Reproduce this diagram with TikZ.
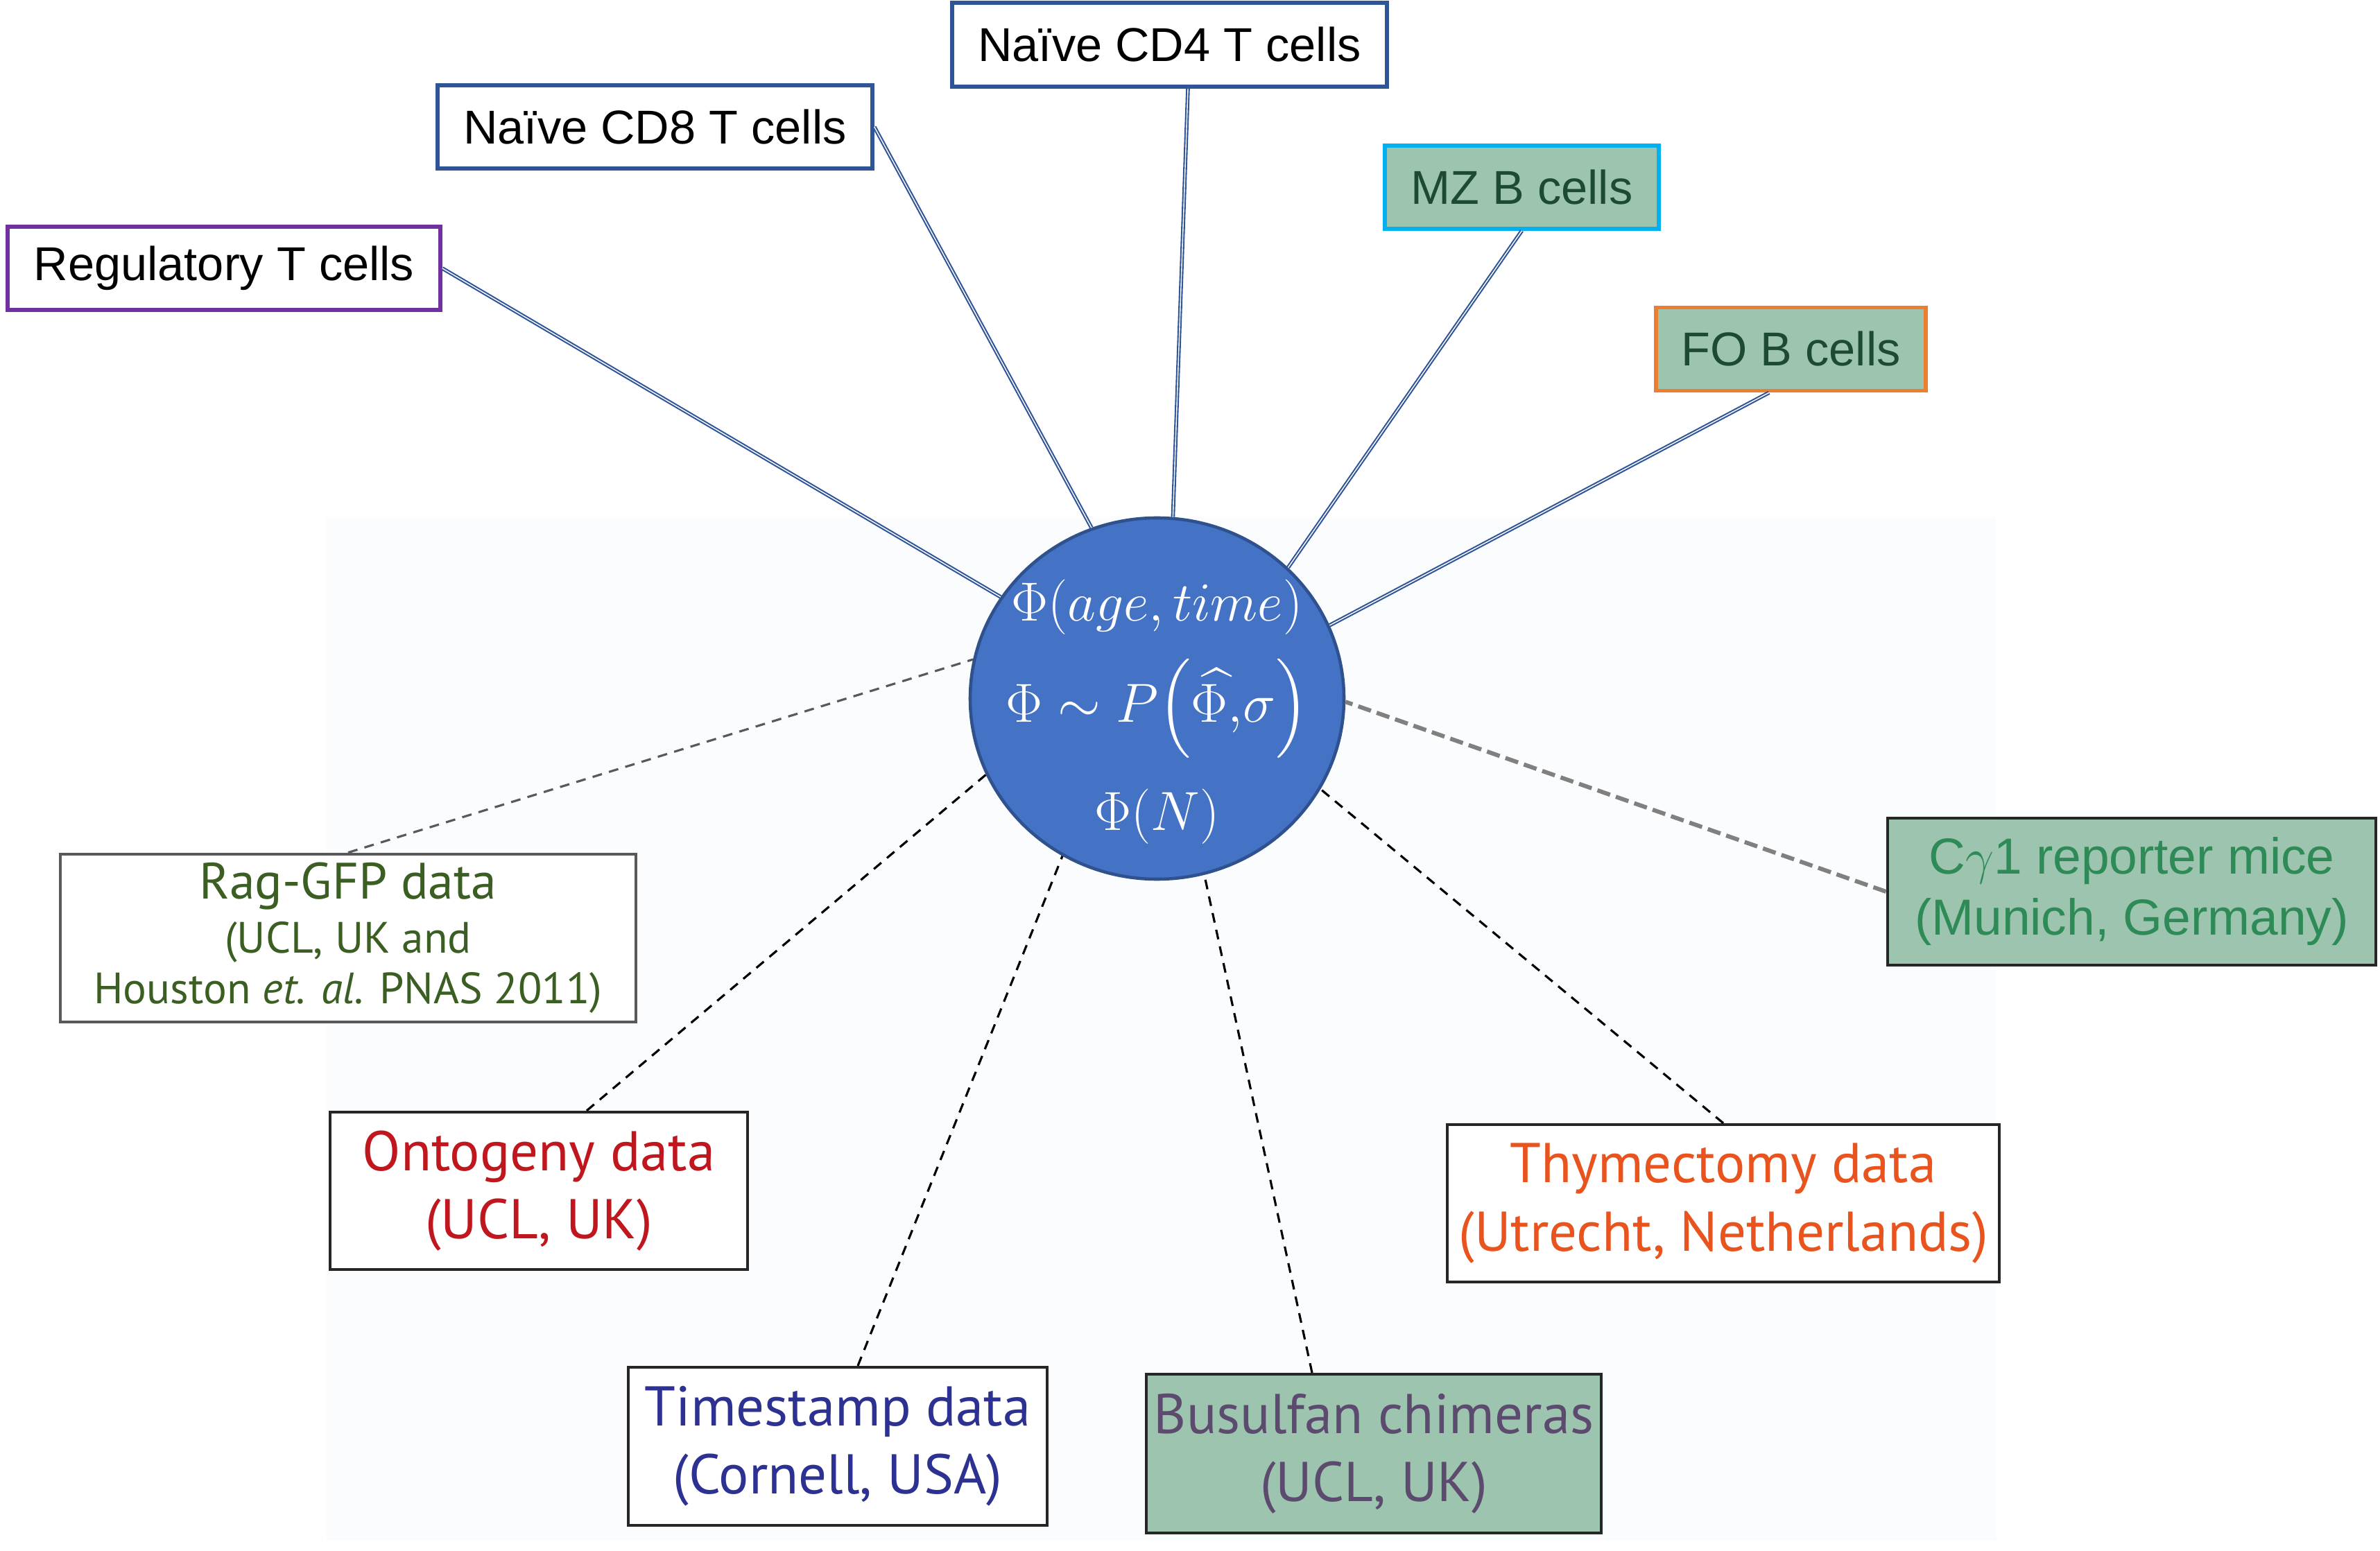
\documentclass[tikz,border=0pt]{standalone}
\usepackage{amsmath}
\usepackage{fontspec}
\setmainfont{Liberation Sans}
\newfontfamily\myriad{PT Sans}
\usetikzlibrary{shapes.geometric}

\definecolor{kreisblau}{HTML}{4472C4}
\definecolor{kreisrand}{HTML}{2F528F}
\definecolor{linkblau}{HTML}{2F5597}
\definecolor{lila}{HTML}{7030A0}
\definecolor{mzrand}{HTML}{00B0F0}
\definecolor{forand}{HTML}{ED7D31}
\definecolor{bgruen}{HTML}{9CC4AE}
\definecolor{dunkelgruen}{HTML}{1D4A33}
\definecolor{raggruen}{HTML}{3B5E23}
\definecolor{ontorot}{HTML}{C0171F}
\definecolor{zeitblau}{HTML}{2D3192}
\definecolor{buslila}{HTML}{5C4B6E}
\definecolor{thymorange}{HTML}{E9531D}
\definecolor{cgruen}{HTML}{2E8B57}
\definecolor{grau}{HTML}{808080}
\definecolor{bgfaint}{HTML}{FAFCFD}

\begin{document}
\begin{tikzpicture}[
    cellbox/.style={draw, line width=1.6pt, fill=white, minimum height=1.2cm, inner sep=0pt, font=\fontsize{19.5}{23}\selectfont},
    databox/.style={draw=black!85, line width=1.2pt, fill=white, align=center, inner sep=0pt, font=\myriad\fontsize{23}{28}\selectfont},
    link/.style={draw=linkblau, double=white, double distance=0.4pt, line width=0.6pt},
    datalink/.style={dash pattern=on 4pt off 3pt, line width=0.9pt},
    mathtxt/.style={text=white, font=\fontsize{21}{25}\selectfont, inner sep=0pt, scale=1.09, transform shape}
]
    \useasboundingbox (0,0) rectangle (34.32,22.36);

    % heller Hintergrund
    \fill[bgfaint] (4.71,0.14) rectangle (28.79,14.91);

    % Kreis in der Mitte
    \node[ellipse, draw=kreisrand, line width=1.3pt, fill=kreisblau, minimum width=5.39cm, minimum height=5.21cm] (phi) at (16.685,12.285) {};
    \node[mathtxt] (fa) at ([yshift=13.2mm]phi.center) {$\Phi(age,time)$};
    \node[mathtxt] (fb) at ([yshift=-1.45mm]phi.center) {$\Phi\sim P\Bigl(\widehat{\Phi,}\sigma\Bigr)$};
    \node[mathtxt] (fc) at ([yshift=-17.05mm]phi.center) {$\Phi(N)$};

    % Zelltypen oben
    \node[cellbox, draw=lila, minimum width=6.24cm] (reg) at (3.23,18.49) {Regulatory T cells};
    \node[cellbox, draw=linkblau, minimum width=6.27cm] (cd8) at (9.445,20.53) {Naïve CD8 T cells};
    \node[cellbox, draw=linkblau, minimum width=6.27cm, minimum height=1.21cm] (cd4) at (16.865,21.715) {Naïve CD4 T cells};
    \node[cellbox, draw=mzrand, fill=bgruen, text=dunkelgruen, minimum width=3.95cm] (mz) at (21.945,19.66) {MZ B cells};
    \node[cellbox, draw=forand, fill=bgruen, text=dunkelgruen, minimum width=3.89cm] (fo) at (25.825,17.325) {FO B cells};

    % Datensaetze unten
    \node[databox, draw=black!65, minimum width=8.295cm, minimum height=2.425cm, text=raggruen, font=\myriad\fontsize{18}{21}\selectfont] (rag) at (5.02,8.83) {{\fontsize{21}{25}\selectfont Rag-GFP data}\\[1pt] (UCL, UK and\\ Houston \textit{et. al.} PNAS 2011)};
    \node[databox, minimum width=6.02cm, minimum height=2.27cm, text=ontorot] (onto) at (7.77,5.185) {Ontogeny data\\ (UCL, UK)};
    \node[databox, minimum width=6.04cm, minimum height=2.28cm, text=zeitblau] (time) at (12.08,1.50) {Timestamp data\\ (Cornell, USA)};
    \node[databox, fill=bgruen, minimum width=6.565cm, minimum height=2.29cm, text=buslila] (bus) at (19.81,1.395) {Busulfan chimeras\\ (UCL, UK)};
    \node[databox, minimum width=7.96cm, minimum height=2.27cm, text=thymorange] (thym) at (24.85,5.005) {Thymectomy data\\ (Utrecht, Netherlands)};
    \node[databox, fill=bgruen, minimum width=7.045cm, minimum height=2.12cm, text=cgruen, font=\fontsize{20.8}{25}\selectfont] (cg) at (30.74,9.50) {C$\gamma$1 reporter mice\\ (Munich, Germany)};

    % Verbindungen zu den Zelltypen
    \draw[link] (reg.east) -- (phi.147.5);
    \draw[link] (cd8.east) -- (phi.111.3);
    \draw[link] ([xshift=2.65mm]cd4.south) -- (phi.85.1);
    \draw[link] (mz.south) -- (phi.45.2);
    \draw[link] ([xshift=-3.15mm]fo.south) -- (phi.23.1);

    % gestrichelte Verbindungen zu den Daten
    \draw[datalink, draw=black!65] (rag.north) -- (phi.168.4);
    \draw[datalink] ([xshift=6.9mm]onto.north) -- (phi.204.6);
    \draw[datalink] ([xshift=2.9mm]time.north) -- (phi.239.7);
    \draw[datalink] ([xshift=-8.9mm]bus.north) -- (phi.285.2);
    \draw[datalink] (thym.north) -- (phi.331.5);
    \draw[datalink, draw=grau, line width=1.7pt, dash pattern=on 5.5pt off 2.5pt] (cg.west) -- (phi.359);
\end{tikzpicture}
\end{document}
